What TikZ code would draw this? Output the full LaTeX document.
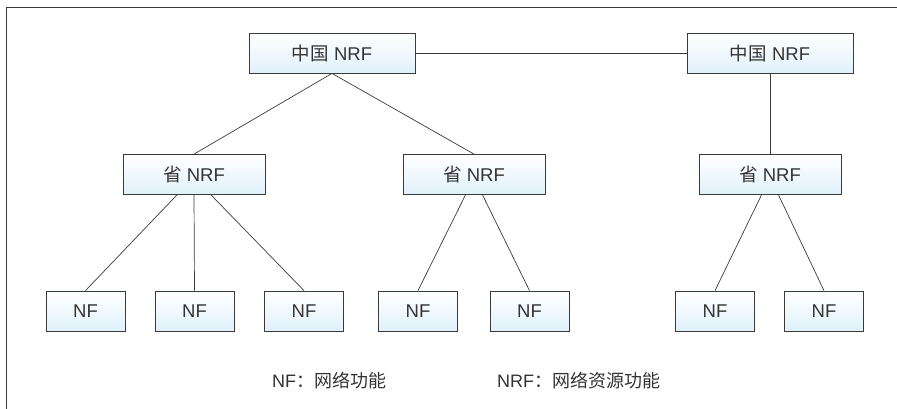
\documentclass[tikz,border=0pt]{standalone}
\usepackage{fontspec}
\setmainfont{Liberation Sans}
\newfontfamily\cjk{Noto Sans CJK SC}
\usetikzlibrary{shadings}
\definecolor{boxline}{HTML}{3A3A3A}
\definecolor{boxbot}{HTML}{E0F1FB}
\definecolor{txt}{HTML}{333333}
\tikzset{
  nbox/.style={draw=boxline, line width=0.8pt, rectangle, inner sep=0pt,
    top color=white, bottom color=boxbot, text=txt, font=\fontsize{18.5}{22}\selectfont,
    minimum height=40pt},
  topbox/.style={nbox, minimum width=166pt},
  midbox/.style={nbox, minimum width=142pt},
  leafbox/.style={nbox, minimum width=79pt},
  link/.style={draw=boxline, line width=0.7pt},
  legend/.style={text=txt, font=\fontsize{18}{21}\selectfont, inner sep=0pt, anchor=base west}
}
\begin{document}
\begin{tikzpicture}[x=1pt,y=-1pt]
\useasboundingbox (0,0) rectangle (897,408);
\draw[boxline, line width=0.9pt] (6,430) -- (6,7) -- (920,7);
\node[topbox] (c1) at (332,53) {{\cjk 中国} NRF};
\node[topbox] (c2) at (770,53) {{\cjk 中国} NRF};
\node[midbox] (p1) at (194,174.5) {{\cjk 省} NRF};
\node[midbox] (p2) at (474,174.5) {{\cjk 省} NRF};
\node[midbox] (p3) at (770,174.5) {{\cjk 省} NRF};
\node[leafbox] (n1) at (85.5,311) {NF};
\node[leafbox] (n2) at (194.5,311) {NF};
\node[leafbox] (n3) at (304,311) {NF};
\node[leafbox] (n4) at (418,311) {NF};
\node[leafbox] (n5) at (529.5,311) {NF};
\node[leafbox] (n6) at (715,311) {NF};
\node[leafbox] (n7) at (824,311) {NF};
\draw[link] (c1.east) -- (c2.west);
\draw[link] (c1.south) -- (p1.north);
\draw[link] (c1.south) -- (p2.north);
\draw[link] (c2.south) -- (p3.north);
\draw[link] ([xshift=-17pt]p1.south) -- (n1.north);
\draw[link] (p1.south) -- (n2.north);
\draw[link] ([xshift=17pt]p1.south) -- (n3.north);
\draw[link] ([xshift=-8.5pt]p2.south) -- (n4.north);
\draw[link] ([xshift=8.5pt]p2.south) -- (n5.north);
\draw[link] ([xshift=-8.5pt]p3.south) -- (n6.north);
\draw[link] ([xshift=8.5pt]p3.south) -- (n7.north);
\node[legend] (l1) at (272,387) {NF{\cjk ：网络功能}};
\node[legend] (l2) at (497,387) {NRF{\cjk ：网络资源功能}};
\end{tikzpicture}
\end{document}
